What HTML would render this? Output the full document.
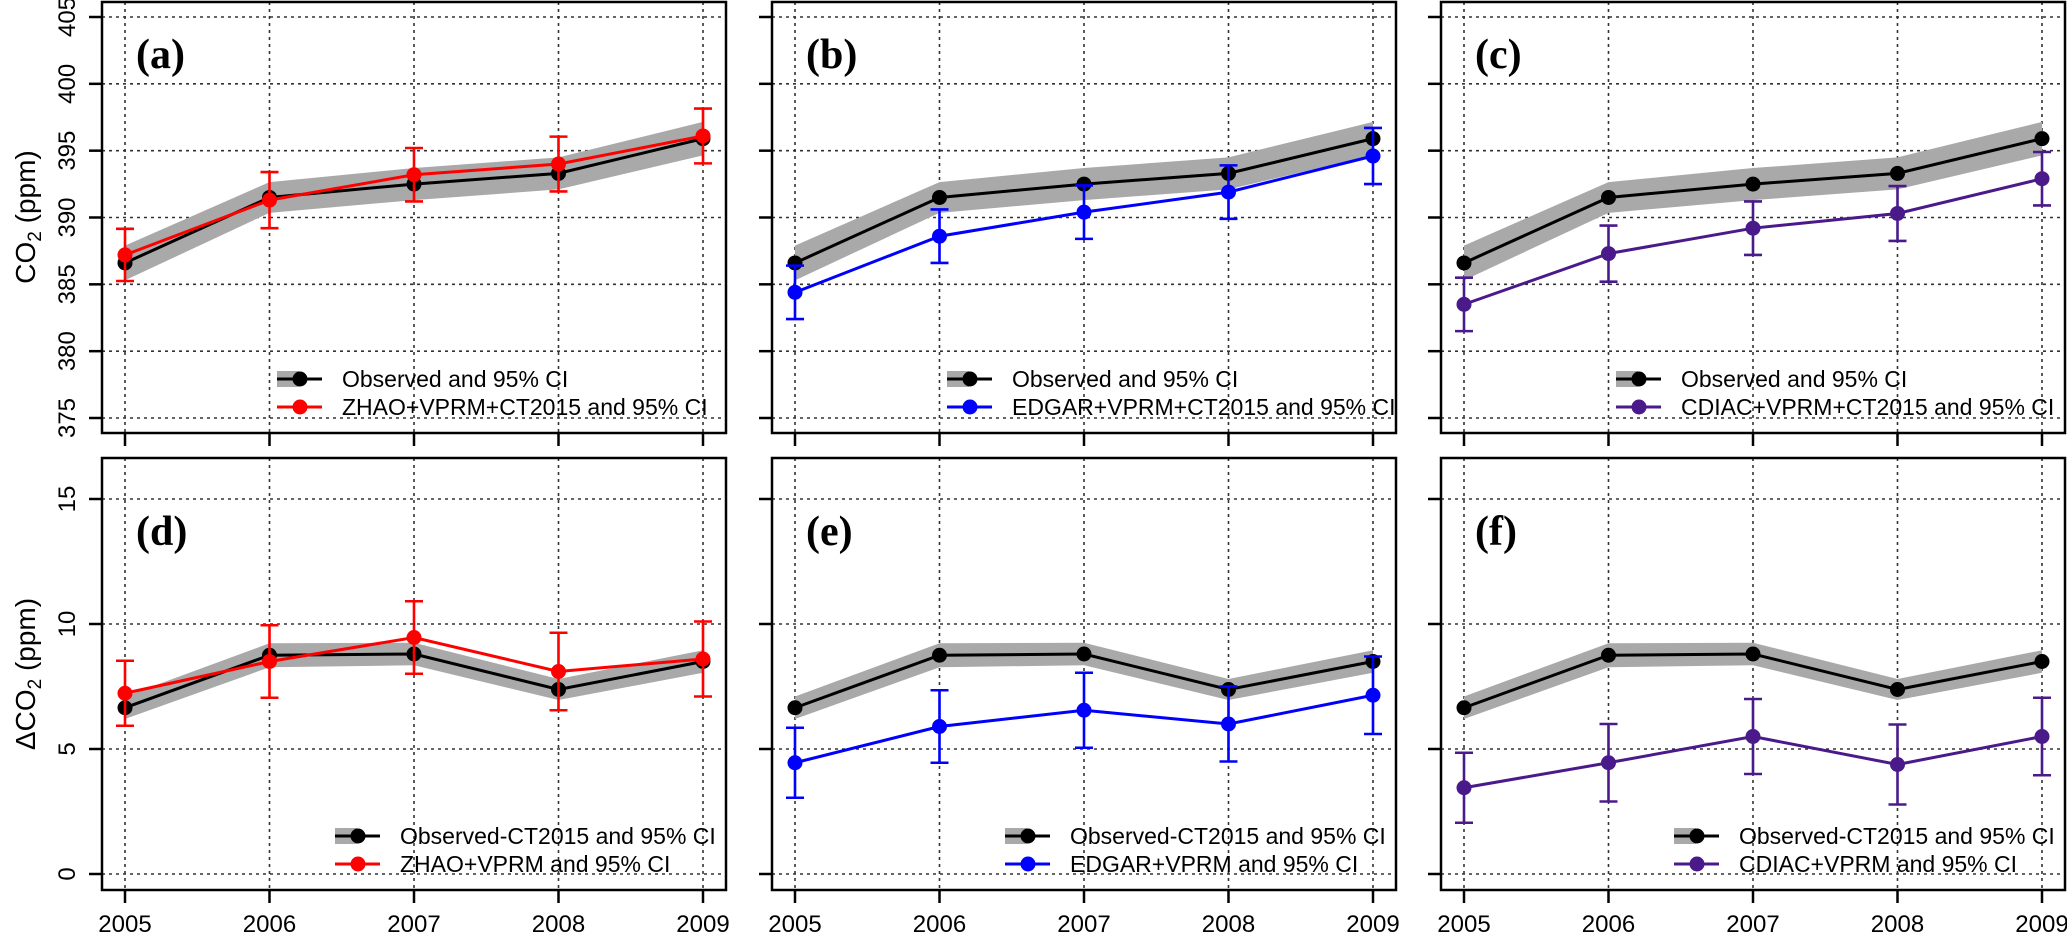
<!DOCTYPE html>
<html><head><meta charset="utf-8">
<style>
html,body{margin:0;padding:0;background:#fff;}
svg{display:block;font-family:"Liberation Sans",Arial,sans-serif;}
</style></head>
<body>
<svg id="chart" width="2067" height="933" viewBox="0 0 2067 933" xmlns="http://www.w3.org/2000/svg"></svg>
<script>
const years = [2005, 2006, 2007, 2008, 2009];
const topTicks = [375, 380, 385, 390, 395, 400, 405];
const botTicks = [0, 5, 10, 15];
const obsTop = [386.6, 391.5, 392.5, 393.3, 395.9];
const obsTopCI = [1.3, 1.15, 1.2, 1.2, 1.25];
const obsBot = [6.65, 8.75, 8.8, 7.38, 8.5];
const obsBotCI = [0.45, 0.48, 0.45, 0.42, 0.45];
const zhaoTop = [387.2, 391.3, 393.2, 394.0, 396.1];
const zhaoTopCI = [1.95, 2.1, 2.0, 2.05, 2.05];
const edgarTop = [384.4, 388.6, 390.4, 391.9, 394.6];
const edgarTopCI = [2.0, 2.0, 2.0, 2.0, 2.1];
const cdiacTop = [383.5, 387.3, 389.2, 390.3, 392.9];
const cdiacTopCI = [2.0, 2.1, 2.0, 2.05, 2.0];
const zhaoBot = [7.23, 8.5, 9.46, 8.1, 8.6];
const zhaoBotCI = [1.3, 1.45, 1.45, 1.55, 1.5];
const edgarBot = [4.45, 5.9, 6.55, 6.0, 7.15];
const edgarBotCI = [1.4, 1.45, 1.5, 1.5, 1.55];
const cdiacBot = [3.45, 4.45, 5.5, 4.38, 5.5];
const cdiacBotCI = [1.4, 1.55, 1.5, 1.6, 1.55];

const NS = "http://www.w3.org/2000/svg";
const svg = document.getElementById('chart');
function mk(tag, attrs, parent){
  const e = document.createElementNS(NS, tag);
  for (const k in attrs) e.setAttribute(k, attrs[k]);
  (parent||svg).appendChild(e);
  return e;
}
const panelsX = [[102,726],[772,1396],[1441,2065]];
const rowsY = [[2,433],[458,890]];
const rowDom = [{v0:405,y0:17,v1:375,y1:418},{v0:15,y0:499,v1:0,y1:874}];
function xs(p){ const L=panelsX[p][0]+23; return y=>L+(y-2005)*144.5; }
function ys(r){ const d=rowDom[r]; return v=>d.y0+(v-d.v0)*(d.y1-d.y0)/(d.v1-d.v0); }

const panels = [
 {r:0,p:0,lab:'(a)',obs:obsTop,oci:obsTopCI,m:zhaoTop,mci:zhaoTopCI,col:'#ff0000',l1:'Observed and 95% CI',l2:'ZHAO+VPRM+CT2015 and 95% CI'},
 {r:0,p:1,lab:'(b)',obs:obsTop,oci:obsTopCI,m:edgarTop,mci:edgarTopCI,col:'#0000ff',l1:'Observed and 95% CI',l2:'EDGAR+VPRM+CT2015 and 95% CI'},
 {r:0,p:2,lab:'(c)',obs:obsTop,oci:obsTopCI,m:cdiacTop,mci:cdiacTopCI,col:'#4b1a8a',l1:'Observed and 95% CI',l2:'CDIAC+VPRM+CT2015 and 95% CI'},
 {r:1,p:0,lab:'(d)',obs:obsBot,oci:obsBotCI,m:zhaoBot,mci:zhaoBotCI,col:'#ff0000',l1:'Observed-CT2015 and 95% CI',l2:'ZHAO+VPRM and 95% CI'},
 {r:1,p:1,lab:'(e)',obs:obsBot,oci:obsBotCI,m:edgarBot,mci:edgarBotCI,col:'#0000ff',l1:'Observed-CT2015 and 95% CI',l2:'EDGAR+VPRM and 95% CI'},
 {r:1,p:2,lab:'(f)',obs:obsBot,oci:obsBotCI,m:cdiacBot,mci:cdiacBotCI,col:'#4b1a8a',l1:'Observed-CT2015 and 95% CI',l2:'CDIAC+VPRM and 95% CI'}
];

panels.forEach(P=>{
  const X=xs(P.p), Y=ys(P.r);
  const [L,R]=panelsX[P.p], [T,B]=rowsY[P.r];
  const g=mk('g',{});
  
  
  const ticks = P.r===0?topTicks:botTicks;
  // grid
  ticks.forEach(t=>{
    const ln=mk('line',{x1:L,x2:R,y1:Y(t),y2:Y(t),stroke:'#333',"stroke-width":1.6,"stroke-dasharray":"3 4"},g);
    
    
  });
  years.forEach(yr=>{
    const ln=mk('line',{x1:X(yr),x2:X(yr),y1:T,y2:B,stroke:'#333',"stroke-width":1.6,"stroke-dasharray":"3 4"},g);
    
    
  });
  // CI band
  let up=years.map((yr,i)=>X(yr)+','+Y(P.obs[i]+P.oci[i]));
  let dn=years.map((yr,i)=>X(yr)+','+Y(P.obs[i]-P.oci[i])).reverse();
  const band=mk('polygon',{points:up.concat(dn).join(' '),fill:'#a9a9a9'},g);
  
  
  const ol=mk('polyline',{points:years.map((yr,i)=>X(yr)+','+Y(P.obs[i])).join(' '),fill:'none',stroke:'#000',"stroke-width":3},g);
  
  
  years.forEach((yr,i)=>{
    const c=mk('circle',{cx:X(yr),cy:Y(P.obs[i]),r:7.5,fill:'#000'},g);
    
    
  });
  // model
  const ml=mk('polyline',{points:years.map((yr,i)=>X(yr)+','+Y(P.m[i])).join(' '),fill:'none',stroke:P.col,"stroke-width":3},g);
  
  
  years.forEach((yr,i)=>{
    const x=X(yr), y1=Y(P.m[i]+P.mci[i]), y2=Y(P.m[i]-P.mci[i]);
    const eb=mk('path',{d:`M${x},${y1}V${y2}M${x-9},${y1}H${x+9}M${x-9},${y2}H${x+9}`,stroke:P.col,"stroke-width":2.6,fill:'none'},g);
    
    
    const c=mk('circle',{cx:x,cy:Y(P.m[i]),r:7.5,fill:P.col},g);
    
    
  });
  // frame
  const fr=mk('rect',{x:L,y:T,width:R-L,height:B-T,fill:'none',stroke:'#000',"stroke-width":2.5},g);
  
  
  // y ticks
  ticks.forEach(t=>{
    const tk=mk('line',{x1:L-13,x2:L,y1:Y(t),y2:Y(t),stroke:'#000',"stroke-width":2.5},g);
    
    
    if(P.p===0){
      const tx=mk('text',{x:0,y:0,transform:`translate(75,${Y(t)}) rotate(-90)`,"text-anchor":"middle","font-size":24},g);
      tx.textContent=t;
      
      
    }
  });
  // x ticks
  years.forEach(yr=>{
    const tk=mk('line',{x1:X(yr),x2:X(yr),y1:B,y2:B+13,stroke:'#000',"stroke-width":2.5},g);
    
    
    if(P.r===1){
      const tx=mk('text',{x:X(yr),y:932,"text-anchor":"middle","font-size":24},g);
      tx.textContent=yr;
      
      
    }
  });
  // panel label
  const pl=mk('text',{x:L+34,y:T+(P.r===0?66:87),"font-family":"Liberation Serif, serif","font-weight":"bold","font-size":42},g);
  pl.textContent=P.lab;
  
  
  // legend
  const lx = L + (P.r===0?175:233), ly1 = P.r===0?379:836, ly2 = ly1+28;
  const lg=mk('g',{},g);
  
  
  mk('rect',{x:lx,y:ly1-8,width:22,height:16,fill:'#a9a9a9'},lg);
  mk('line',{x1:lx,x2:lx+45,y1:ly1,y2:ly1,stroke:'#000',"stroke-width":3},lg);
  mk('circle',{cx:lx+23,cy:ly1,r:7.5,fill:'#000'},lg);
  mk('line',{x1:lx,x2:lx+45,y1:ly2,y2:ly2,stroke:P.col,"stroke-width":3},lg);
  mk('circle',{cx:lx+23,cy:ly2,r:7.5,fill:P.col},lg);
  const t1=mk('text',{x:lx+65,y:ly1+8,"font-size":23},lg);
  t1.textContent=P.l1;
  
  
  const t2=mk('text',{x:lx+65,y:ly2+8,"font-size":23},lg);
  t2.textContent=P.l2;
  
  
});
// axis titles
const yt1=mk('text',{transform:'translate(35,217) rotate(-90)',"text-anchor":"middle","font-size":28});
yt1.innerHTML='CO<tspan font-size="19" dy="6">2</tspan><tspan dy="-6"> (ppm)</tspan>';


const yt2=mk('text',{transform:'translate(35,674) rotate(-90)',"text-anchor":"middle","font-size":28});
yt2.innerHTML='ΔCO<tspan font-size="19" dy="6">2</tspan><tspan dy="-6"> (ppm)</tspan>';


</script>
</body></html>
